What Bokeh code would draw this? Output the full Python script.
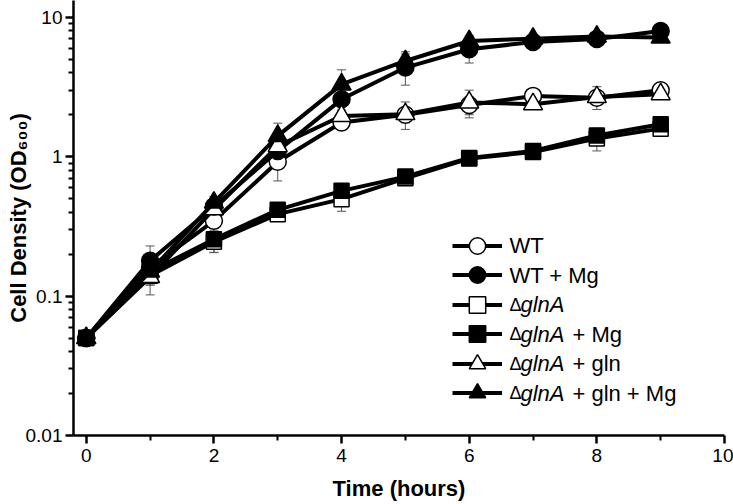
import math
from bokeh.plotting import figure
from bokeh.models import (FixedTicker, CustomJSTickFormatter, Whisker, TeeHead,
                          ColumnDataSource, Label, Legend, LegendItem, Range1d)
from bokeh.core.properties import value
from bokeh.embed import file_html
from bokeh.resources import INLINE

# ---------------- data ----------------
hours = [0, 1, 2, 3, 4, 5, 6, 7, 8, 9]

wt        = [0.05, 0.160, 0.347, 0.92, 1.76, 2.00, 2.35, 2.73, 2.65, 3.00]
wt_err    = [0.003, 0.030, 0.050, 0.25, 0.20, 0.25, 0.35, 0.20, 0.30, 0.25]
wt_mg     = [0.05, 0.179, 0.440, 1.10, 2.58, 4.36, 5.90, 6.65, 7.00, 7.98]
wt_mg_err = [0.003, 0.050, 0.050, 0.15, 0.30, 1.10, 1.20, 0.50, 0.60, 0.40]
gln       = [0.05, 0.140, 0.245, 0.387, 0.496, 0.70, 0.97, 1.08, 1.35, 1.59]
gln_err   = [0.003, 0.020, 0.040, 0.040, 0.090, 0.06, 0.08, 0.08, 0.25, 0.12]
gln_mg    = [0.05, 0.150, 0.256, 0.416, 0.569, 0.72, 0.98, 1.10, 1.42, 1.71]
gln_mg_err= [0.003, 0.020, 0.050, 0.040, 0.050, 0.06, 0.08, 0.06, 0.15, 0.10]
glq       = [0.05, 0.137, 0.420, 1.19, 1.96, 2.02, 2.45, 2.38, 2.68, 2.81]
glq_err   = [0.003, 0.035, 0.050, 0.15, 0.20, 0.45, 0.55, 0.20, 0.50, 0.15]
glq_mg    = [0.05, 0.150, 0.469, 1.41, 3.30, 4.86, 6.76, 7.03, 7.27, 7.15]
glq_mg_err= [0.003, 0.030, 0.050, 0.33, 0.90, 0.80, 0.60, 0.40, 0.30, 0.30]

# legend label pieces: (prefix, italic part, suffix)
legend_labels = [("WT", "", ""), ("WT + Mg", "", ""),
                 ("\u0394", "glnA", ""), ("\u0394", "glnA", "+ Mg"),
                 ("\u0394", "glnA", "+ gln"), ("\u0394", "glnA", "+ gln + Mg")]

x_ticks = [0, 2, 4, 6, 8, 10]
x_minor = [1, 3, 5, 7, 9]
y_ticks = [0.01, 0.1, 1, 10]
y_minor = [m * d for d in (0.01, 0.1, 1) for m in range(2, 10)]

series = [
    (wt, wt_err, "circle", "white", 17),
    (wt_mg, wt_mg_err, "circle", "black", 17),
    (gln, gln_err, "square", "white", 15),
    (gln_mg, gln_mg_err, "square", "black", 15),
    (glq, glq_err, "triangle", "white", 19),
    (glq_mg, glq_mg_err, "triangle", "black", 19),
]

FONT = "Liberation Sans"
Y_TOP = 13.2
FRAME_H = 435

p = figure(width=733, height=504,
           x_range=Range1d(-0.2, 10), y_range=Range1d(0.01, Y_TOP),
           y_axis_type="log", output_backend="svg", toolbar_location=None,
           min_border_left=73, min_border_right=9, min_border_top=0,
           min_border_bottom=69)
p.outline_line_color = None
p.xgrid.visible = False
p.ygrid.visible = False

items = []
sources = []
for vals, errs, marker, fill, size in series:
    src = ColumnDataSource(dict(x=hours, y=vals,
                                up=[v + e for v, e in zip(vals, errs)],
                                lo=[v - e for v, e in zip(vals, errs)]))
    sources.append(src)
    lr = p.line("x", "y", source=src, line_color="black", line_width=4)
    sr = p.scatter("x", "y", source=src, marker=marker, size=size,
                   fill_color=fill, line_color="black", line_width=1.5)
    items.append(LegendItem(label=value(" "), renderers=[lr, sr]))

for src in sources:
    p.add_layout(Whisker(source=src, base="x", upper="up", lower="lo",
                         line_color="#555555", line_width=1,
                         upper_head=TeeHead(size=9, line_color="#555555", line_width=1),
                         lower_head=TeeHead(size=9, line_color="#555555", line_width=1)))

# two interleaved legends so that rows can sit closer than the key height
row_px = [245, 274.5, 304, 333.5, 363, 392.5]
for start in (0, 1):
    sel = items[start::2]
    last_row = row_px[start + 4]
    leg = Legend(items=sel, location=(379, FRAME_H - (last_row + 20.5)),
                 padding=0, margin=0, glyph_width=50, glyph_height=41,
                 spacing=18, label_standoff=0, label_text_font_size="1px",
                 label_height=1, label_width=1, border_line_color=None,
                 background_fill_alpha=0)
    p.add_layout(leg)

# legend texts (positioned in data space next to the legend keys)
px_per_hour = 63.8
px_per_decade = FRAME_H / (math.log10(Y_TOP) + 2)
text_x0 = 6.63
for (pre, ital, suf), ypx in zip(legend_labels, row_px):
    yv = 10 ** (math.log10(Y_TOP) - ypx / px_per_decade)
    if ital:
        p.add_layout(Label(x=text_x0, y=yv, text=pre, text_font=FONT,
                           text_font_size="18px", text_baseline="middle",
                           text_align="left", text_color="black"))
        xi = text_x0 + 11.0 / px_per_hour
        p.add_layout(Label(x=xi, y=yv, text=ital, text_font=FONT,
                           text_font_style="italic", text_color="black",
                           text_font_size="22px", text_baseline="middle",
                           text_align="left"))
        if suf:
            xs = xi + 52.0 / px_per_hour
            p.add_layout(Label(x=xs, y=yv, text=suf, text_font=FONT,
                               text_font_size="22px", text_baseline="middle",
                               text_align="left", text_color="black"))
    else:
        p.add_layout(Label(x=text_x0, y=yv, text=pre, text_font=FONT,
                           text_font_size="22px", text_baseline="middle",
                           text_align="left", text_color="black"))

# axes
xa = p.xaxis[0]
xa.ticker = FixedTicker(ticks=x_ticks, minor_ticks=x_minor)
ya = p.yaxis[0]
ya.ticker = FixedTicker(ticks=y_ticks, minor_ticks=y_minor)
ya.formatter = CustomJSTickFormatter(code="return tick.toString();")

for ax in (xa, ya):
    ax.axis_line_width = 2.5
    ax.axis_line_color = "black"
    ax.major_tick_line_width = 2.5
    ax.major_tick_line_color = "black"
    ax.minor_tick_line_width = 2
    ax.minor_tick_line_color = "black"
    ax.major_tick_in = 0
    ax.major_tick_out = 8
    ax.minor_tick_in = 0
    ax.minor_tick_out = 5
    ax.major_label_text_font = FONT
    ax.major_label_text_font_size = "19px"
    ax.major_label_text_color = "black"
    ax.axis_label_text_font = FONT
    ax.axis_label_text_font_size = "22px"
    ax.axis_label_text_font_style = "bold"
    ax.axis_label_text_color = "black"

xa.major_label_standoff = 5
ya.major_label_standoff = 3
xa.axis_label = "Time (hours)"
xa.axis_label_standoff = 11
ya.axis_label = "Cell Density (OD\u2086\u2080\u2080)"
ya.axis_label_standoff = -8

open("out.html", "w").write(file_html(p, INLINE))
